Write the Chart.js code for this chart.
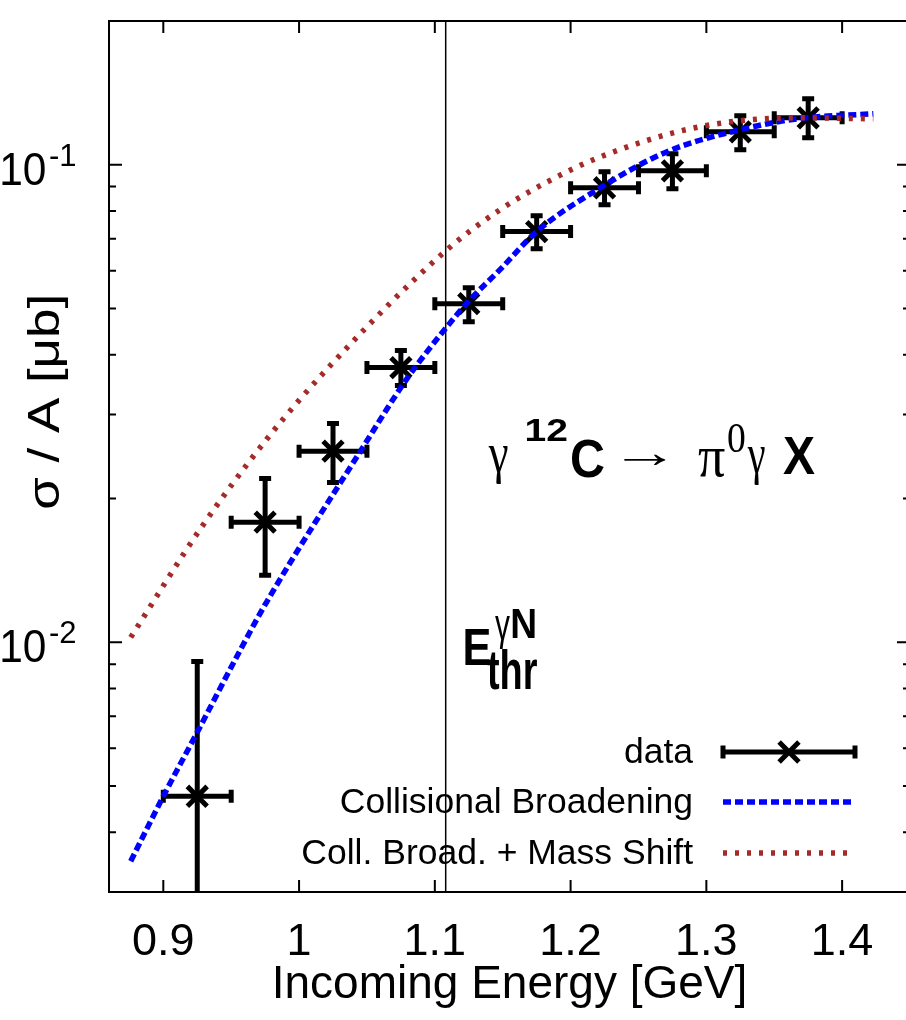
<!DOCTYPE html>
<html>
<head>
<meta charset="utf-8">
<script src="https://cdn.jsdelivr.net/npm/chart.js@4.4.1/dist/chart.umd.min.js"></script>
<style>
  html, body { margin: 0; padding: 0; overflow: hidden; background: #fff; width: 906px; height: 1020px; }
  #wrap { position: relative; width: 906px; height: 1020px; overflow: hidden; }
  #c { display: block; position: absolute; left: 0; top: 0; }
</style>
</head>
<body>
<div id="wrap"><canvas id="c" width="920" height="1020"></canvas></div>
<script>
// Measured cross sections per nucleon, gamma 12C -> pi0 gamma X
const energy = [0.925, 0.975, 1.025, 1.075, 1.125, 1.175, 1.225, 1.275, 1.325, 1.375];
const sigma = [0.00476, 0.01785, 0.02513, 0.0376, 0.05118, 0.07244, 0.0895, 0.0971, 0.1172, 0.1254];
const sigmaLow = [0.0004, 0.01381, 0.02162, 0.03448, 0.04693, 0.06673, 0.0825, 0.0891, 0.1075, 0.1139];
const sigmaHigh = [0.00912, 0.02203, 0.02872, 0.04082, 0.05529, 0.07824, 0.0967, 0.1054, 0.1266, 0.1374];
const binHalfWidth = [0.025, 0.025, 0.025, 0.025, 0.025, 0.025, 0.025, 0.025, 0.025, 0.025];

// Model: collisional broadening only
const cbEnergy = [0.876, 0.900, 0.925, 0.957, 0.976, 1.046, 1.079, 1.109, 1.126, 1.148, 1.175, 1.222, 1.271, 1.325, 1.367, 1.423];
const cbSigma = [0.00348, 0.00476, 0.00648, 0.00967, 0.01213, 0.02533, 0.03549, 0.04583, 0.0522, 0.0603, 0.07244, 0.08952, 0.1065, 0.1184, 0.1248, 0.1279];

// Model: collisional broadening + mass shift
const msEnergy = [0.876, 0.927, 0.976, 1.025, 1.109, 1.148, 1.183, 1.222, 1.295, 1.369, 1.423];
const msSigma = [0.01024, 0.01723, 0.02659, 0.03852, 0.06641, 0.0805, 0.09214, 0.1039, 0.1201, 0.1254, 0.1248];

// Axes
const xTicks = [0.9, 1.0, 1.1, 1.2, 1.3, 1.4];
const yTicks = [0.003, 0.004, 0.005, 0.006, 0.007, 0.008, 0.009, 0.01,
                0.02, 0.03, 0.04, 0.05, 0.06, 0.07, 0.08, 0.09, 0.1, 0.2];
const yLabelled = [0.01, 0.1];
const yExponents = ['-2', '-1'];

// Free-nucleon threshold energy
const thresholdEnergy = 1.108;

const SANS = "'Liberation Sans', Arial, Helvetica, sans-serif";
const SERIF = "'Liberation Serif', 'Times New Roman', serif";

// Draws text so that its ink box starts at (left, top); optional width squeezes it horizontally.
function inkText(ctx, text, font, left, top, width) {
  ctx.font = font;
  const m = ctx.measureText(text);
  const inkW = m.actualBoundingBoxLeft + m.actualBoundingBoxRight;
  const sx = width ? width / inkW : 1;
  ctx.save();
  ctx.translate(left + m.actualBoundingBoxLeft * sx, top + m.actualBoundingBoxAscent);
  ctx.scale(sx, 1);
  ctx.textAlign = 'left';
  ctx.textBaseline = 'alphabetic';
  ctx.fillText(text, 0, 0);
  ctx.restore();
}

const capHalf = 6.5;

const decorations = {
  id: 'decorations',
  beforeDatasetsDraw(chart) {
    const { ctx, chartArea: a, scales: { x, y } } = chart;
    ctx.save();
    ctx.strokeStyle = '#000';
    // threshold marker
    const tx = x.getPixelForValue(thresholdEnergy);
    ctx.lineWidth = 1.5;
    ctx.beginPath();
    ctx.moveTo(tx, a.top);
    ctx.lineTo(tx, a.bottom);
    ctx.stroke();
    // error bars
    ctx.beginPath();
    ctx.rect(a.left, a.top, a.right - a.left, a.bottom - a.top);
    ctx.clip();
    ctx.lineWidth = 5;
    ctx.lineCap = 'butt';
    energy.forEach((e, i) => {
      const px = x.getPixelForValue(e);
      const py = y.getPixelForValue(sigma[i]);
      const x0 = x.getPixelForValue(e - binHalfWidth[i]);
      const x1 = x.getPixelForValue(e + binHalfWidth[i]);
      const y0 = y.getPixelForValue(sigmaHigh[i]);
      const y1 = y.getPixelForValue(sigmaLow[i]);
      ctx.beginPath();
      ctx.moveTo(x0, py); ctx.lineTo(x1, py);
      ctx.moveTo(px, y0); ctx.lineTo(px, y1);
      ctx.moveTo(x0, py - capHalf); ctx.lineTo(x0, py + capHalf);
      ctx.moveTo(x1, py - capHalf); ctx.lineTo(x1, py + capHalf);
      ctx.moveTo(px - 6, y0); ctx.lineTo(px + 6, y0);
      ctx.moveTo(px - 6, y1); ctx.lineTo(px + 6, y1);
      ctx.stroke();
    });
    ctx.restore();
  },
  afterDraw(chart) {
    const { ctx, chartArea: a, scales: { x, y } } = chart;
    ctx.save();
    ctx.strokeStyle = '#000';
    ctx.fillStyle = '#000';
    ctx.lineWidth = 2;
    ctx.lineCap = 'butt';

    // frame
    ctx.strokeRect(a.left, a.top, a.right - a.left, a.bottom - a.top);

    // inward ticks
    ctx.beginPath();
    xTicks.forEach(v => {
      const px = x.getPixelForValue(v);
      ctx.moveTo(px, a.bottom); ctx.lineTo(px, a.bottom - 12);
      ctx.moveTo(px, a.top); ctx.lineTo(px, a.top + 12);
    });
    yTicks.forEach(v => {
      const py = y.getPixelForValue(v);
      const major = yLabelled.includes(v);
      const len = major ? 13 : 7;
      ctx.moveTo(a.left, py); ctx.lineTo(a.left + len, py);
      ctx.moveTo(a.right, py); ctx.lineTo(a.right - len, py);
    });
    ctx.stroke();

    // y tick labels with superscript exponents
    yLabelled.forEach((v, i) => {
      const py = y.getPixelForValue(v);
      inkText(ctx, '10', '46px ' + SANS, 2, py - 12, 43);
      inkText(ctx, yExponents[i], '31px ' + SANS, 50, py - 21, null);
    });

    // y axis title
    ctx.save();
    ctx.translate(0, (a.top + a.bottom) / 2 - 54);
    ctx.rotate(-Math.PI / 2);
    inkText(ctx, 'σ / A [μb]', '44px ' + SANS, -106, 27, 212);
    ctx.restore();

    // reaction label, anchored in data coordinates
    const rx = x.getPixelForValue(1.1391), ry = y.getPixelForValue(0.02214);
    const reaction = [
      ['γ', '56px ' + SERIF, 0, -31, 20],
      ['12', 'bold 32px ' + SANS, 39, -58, 40],
      ['C', 'bold 53px ' + SANS, 84, -38, 32],
      ['→', '44px ' + SERIF, 135, -23, 44],
      ['π', '60px ' + SERIF, 210, -28, 27],
      ['0', '42px ' + SERIF, 240, -53, 17],
      ['γ', '56px ' + SERIF, 259, -30, 18],
      ['X', 'bold 54px ' + SANS, 295, -40, 32]
    ];
    reaction.forEach(([t, f, dx, dy, w]) => inkText(ctx, t, f, rx + dx, ry + dy, w));

    // threshold label
    const ex = x.getPixelForValue(1.1222), ey = y.getPixelForValue(0.00891);
    const thr = [
      ['E', 'bold 52px ' + SANS, 0, -37, 25],
      ['γ', '44px ' + SANS, 30, -50, 15],
      ['N', 'bold 42px ' + SANS, 47, -57, 23],
      ['thr', 'bold 56px ' + SANS, 22, -17, 50]
    ];
    thr.forEach(([t, f, dx, dy, w]) => inkText(ctx, t, f, ex + dx, ey + dy, w));

    // legend
    const ds = chart.data.datasets;
    const textRight = a.right - 217;
    const s0 = a.right - 187, s1 = a.right - 55;
    const rowsY = [a.bottom - 140, a.bottom - 90, a.bottom - 39];
    ctx.font = '35.5px ' + SANS;
    ctx.textAlign = 'right';
    ctx.textBaseline = 'middle';
    ds.forEach((d, i) => {
      const ly = rowsY[i];
      ctx.fillText(d.label, textRight, ly + 1);
      ctx.save();
      if (i === 0) {
        ctx.lineWidth = 5;
        ctx.beginPath();
        ctx.moveTo(s0, ly); ctx.lineTo(s1, ly);
        ctx.moveTo(s0, ly - capHalf); ctx.lineTo(s0, ly + capHalf);
        ctx.moveTo(s1, ly - capHalf); ctx.lineTo(s1, ly + capHalf);
        ctx.stroke();
        Chart.helpers.drawPoint(ctx, {
          pointStyle: d.pointStyle, radius: d.pointRadius, borderWidth: d.pointBorderWidth, rotation: 0
        }, (s0 + s1) / 2, ly);
      } else {
        ctx.strokeStyle = d.borderColor;
        ctx.lineWidth = d.borderWidth;
        ctx.setLineDash(d.borderDash);
        ctx.beginPath();
        ctx.moveTo(s0, ly); ctx.lineTo(s1, ly);
        ctx.stroke();
      }
      ctx.restore();
    });
    ctx.restore();
  }
};

new Chart(document.getElementById('c'), {
  type: 'scatter',
  data: {
    datasets: [
      {
        label: 'data',
        data: energy.map((e, i) => ({ x: e, y: sigma[i] })),
        pointStyle: 'crossRot',
        pointRadius: 14,
        pointBorderWidth: 5,
        pointBorderColor: '#000',
        pointBackgroundColor: '#000',
        borderColor: '#000',
        showLine: false,
        order: 2
      },
      {
        label: 'Collisional Broadening',
        data: cbEnergy.map((e, i) => ({ x: e, y: cbSigma[i] })),
        showLine: true,
        borderColor: '#0000ff',
        borderWidth: 5.5,
        borderDash: [8, 4],
        pointRadius: 0,
        cubicInterpolationMode: 'monotone',
        order: 1
      },
      {
        label: 'Coll. Broad. + Mass Shift',
        data: msEnergy.map((e, i) => ({ x: e, y: msSigma[i] })),
        showLine: true,
        borderColor: '#a52a2a',
        borderWidth: 5.5,
        borderDash: [4, 8],
        pointRadius: 0,
        cubicInterpolationMode: 'monotone',
        order: 0
      }
    ]
  },
  options: {
    responsive: false,
    maintainAspectRatio: false,
    devicePixelRatio: 1,
    animation: false,
    events: [],
    layout: { autoPadding: false, padding: { top: 21, right: 10, left: 0, bottom: 0 } },
    plugins: { legend: { display: false }, tooltip: { enabled: false } },
    scales: {
      x: {
        type: 'linear',
        min: 0.86,
        max: 1.45,
        afterBuildTicks: s => { s.ticks = xTicks.map(v => ({ value: v })); },
        afterFit: s => { s.height = 128; },
        grid: { display: false, drawTicks: false },
        border: { display: false },
        ticks: {
          color: '#000',
          font: { family: SANS, size: 45 },
          padding: 24,
          maxRotation: 0,
          autoSkip: false,
          callback: v => String(Number(v.toFixed(1)))
        },
        title: {
          display: true,
          text: 'Incoming Energy [GeV]',
          color: '#000',
          font: { family: SANS, size: 46 },
          padding: { top: 0, bottom: 7 }
        }
      },
      y: {
        type: 'logarithmic',
        min: 0.003,
        max: 0.2,
        afterBuildTicks: s => { s.ticks = yTicks.map(v => ({ value: v })); },
        afterFit: s => { s.width = 109; },
        grid: { display: false, drawTicks: false },
        border: { display: false },
        ticks: { display: false }
      }
    }
  },
  plugins: [decorations]
});
</script>
</body>
</html>
